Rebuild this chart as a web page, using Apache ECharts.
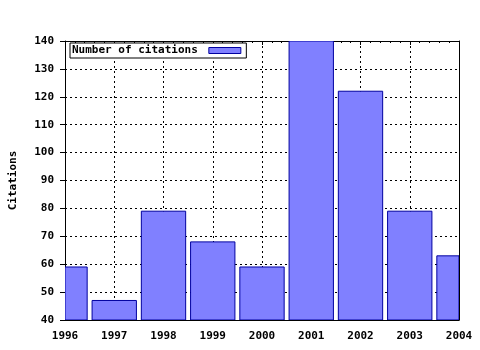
<!DOCTYPE html>
<html><head><meta charset="utf-8">
<script src="https://cdn.jsdelivr.net/npm/echarts@6/dist/echarts.min.js"></script>
<style>html,body{margin:0;padding:0;background:#fff}#c{width:480px;height:350px}</style>
</head><body><div id="c"></div>
<script>
var years = [1996, 1997, 1998, 1999, 2000, 2001, 2002, 2003, 2004];
var citations = [59, 47, 79, 68, 59, 140, 122, 79, 63];
var seriesName = 'Number of citations';
var yTitle = 'Citations';

var font = {fontFamily: 'DejaVu Sans Mono', fontWeight: 'bold', fontSize: 11, color: '#000'};
var barFill = '#8080ff', barEdge = '#0000a0';
var chart = echarts.init(document.getElementById('c'), null, {renderer: 'canvas'});
var data = years.map(function (y, i) { return [y, citations[i]]; });

function renderBar(params, api) {
  var x = api.value(0), v = api.value(1);
  var top = api.coord([x, v]);
  var base = api.coord([x, 40]);
  var w = api.size([0.9, 0])[0];
  var rect = echarts.graphic.clipRectByRect(
    {x: top[0] - w / 2, y: top[1], width: w, height: base[1] - top[1]},
    {x: params.coordSys.x, y: params.coordSys.y, width: params.coordSys.width, height: params.coordSys.height}
  );
  if (!rect) return;
  return {type: 'rect', shape: rect, style: {fill: barFill, stroke: barEdge, lineWidth: 1}};
}

chart.setOption({
  animation: false,
  backgroundColor: '#fff',
  grid: {left: 64, right: 21, top: 41, bottom: 30, show: false},
  legend: {
    left: 70, top: 43, orient: 'horizontal', align: 'right',
    data: [{name: seriesName, icon: 'rect'}],
    backgroundColor: '#fff', borderColor: '#000', borderWidth: 1, borderRadius: 0,
    padding: [2, 5, 2, 2], itemWidth: 32, itemHeight: 6, itemGap: 6,
    itemStyle: {color: barFill, borderColor: barEdge, borderWidth: 1},
    textStyle: Object.assign({}, font, {padding: [0, 6, 0, 0]})
  },
  xAxis: [{
    type: 'value', min: 1996, max: 2004, interval: 1, position: 'bottom',
    axisLine: {show: true, lineStyle: {color: '#000', width: 1}},
    axisTick: {show: true, inside: true, length: 4, lineStyle: {color: '#000'}},
    minorTick: {show: true, splitNumber: 5, length: 2, lineStyle: {color: '#000'}},
    axisLabel: Object.assign({}, font, {margin: 11, formatter: function (v) { return String(v); }}),
    splitLine: {show: true, lineStyle: {color: '#000', type: [2, 3], width: 1}}
  }, {
    type: 'value', min: 1996, max: 2004, interval: 1, position: 'top',
    axisLine: {show: true, lineStyle: {color: '#000', width: 1}},
    axisTick: {show: true, inside: true, length: 4, lineStyle: {color: '#000'}},
    minorTick: {show: true, splitNumber: 5, length: 2, lineStyle: {color: '#000'}},
    axisLabel: {show: false}, splitLine: {show: false}
  }],
  yAxis: [{
    type: 'value', min: 40, max: 140, interval: 10, position: 'left',
    name: yTitle, nameLocation: 'middle', nameGap: 46, nameRotate: 90,
    nameTextStyle: font,
    axisLine: {show: true, lineStyle: {color: '#000', width: 1}},
    axisTick: {show: true, inside: false, length: 5, lineStyle: {color: '#000'}},
    axisLabel: Object.assign({}, font, {margin: 11}),
    splitLine: {show: true, lineStyle: {color: '#000', type: [2, 3], width: 1}}
  }, {
    type: 'value', min: 40, max: 140, interval: 10, position: 'right',
    axisLine: {show: true, lineStyle: {color: '#000', width: 1}},
    axisTick: {show: false}, axisLabel: {show: false}, splitLine: {show: false}
  }],
  series: [{
    name: seriesName, type: 'custom', xAxisIndex: 0, yAxisIndex: 0,
    data: data, renderItem: renderBar, clip: true,
    encode: {x: 0, y: 1},
    itemStyle: {color: barFill, borderColor: barEdge, borderWidth: 1}
  }]
});
</script></body></html>
